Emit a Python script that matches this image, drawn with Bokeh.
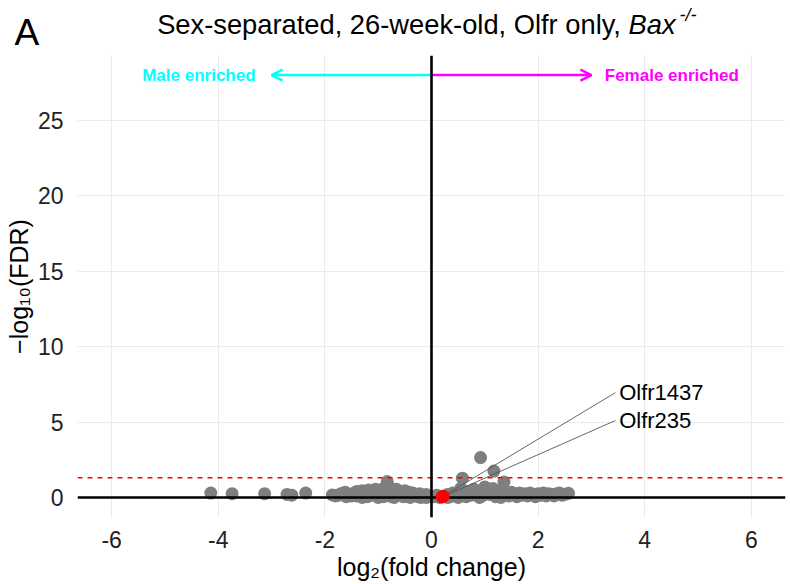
from bokeh.plotting import figure
from bokeh.layouts import column
from bokeh.models import Range1d, Span, Arrow, OpenHead, Label
from bokeh.embed import file_html
from bokeh.resources import INLINE
from bokeh.core.properties import value

# ---------------- data ----------------
gray_x = [-4.14, -3.74, -3.13, -2.71, -2.62, -2.36, -1.86, -1.80,
          -1.75, -1.70, -1.62, -1.55, -1.50, -1.45, -1.40, -1.35, -1.30, -1.25,
          -1.20, -1.18, -1.12, -1.08, -1.05, -1.00, -0.98, -0.95, -0.90, -0.88,
          -0.83, -0.80, -0.78, -0.75, -0.72, -0.70, -0.66, -0.62, -0.60, -0.56,
          -0.52, -0.50, -0.46, -0.42, -0.38, -0.35, -0.30, -0.26, -0.22, -0.18,
          -0.14, -0.10, -0.06, -0.03, -1.60, -1.30, -1.00, -0.70, -0.40, -0.20,
          -0.10, -0.90, -0.55, -1.40,
          0.05, 0.10, 0.15, 0.30, 0.35, 0.40, 0.45, 0.50, 0.55, 0.58, 0.60,
          0.65, 0.70, 0.75, 0.80, 0.85, 0.92, 0.95, 1.00, 1.05, 1.10, 1.17,
          1.20, 1.25, 1.30, 1.36, 1.40, 1.45, 1.50, 1.55, 1.60, 1.65, 1.70,
          1.75, 1.80, 1.85, 1.90, 1.95, 2.00, 2.05, 2.10, 2.15, 2.20, 2.25,
          2.30, 2.35, 2.40, 2.45, 2.50, 2.57, 1.15, 0.30, 0.50, 0.90, 1.30,
          1.00]
gray_y = [0.29, 0.25, 0.25, 0.20, 0.15, 0.29, 0.16, 0.10,
          0.15, 0.25, 0.35, 0.20, 0.10, 0.30, 0.40, 0.15, 0.45, 0.25,
          0.05, 0.50, 0.35, 0.15, 0.55, 0.30, 0.10, 0.45, 0.60, 0.20,
          1.05, 0.70, 0.35, 0.05, 0.50, 0.25, 0.55, 0.15, 0.40, 0.30,
          0.05, 0.45, 0.20, 0.35, 0.10, 0.30, 0.20, 0.05, 0.25, 0.15,
          0.10, 0.20, 0.05, 0.10, 0.05, 0.00, 0.00, 0.00, 0.00, 0.00,
          0.00, 0.05, 0.10, 0.10,
          0.05, 0.15, 0.00, 0.20, 0.05, 0.30, 0.10, 0.35, 0.60, 1.28, 0.20,
          0.05, 0.40, 0.15, 0.55, 0.30, 2.64, 0.10, 0.35, 0.50, 0.20, 1.75,
          0.05, 0.30, 0.45, 1.02, 0.20, 0.10, 0.35, 0.25, 0.05, 0.30, 0.15,
          0.25, 0.10, 0.30, 0.20, 0.05, 0.25, 0.15, 0.30, 0.10, 0.25, 0.20,
          0.10, 0.25, 0.30, 0.15, 0.20, 0.27, 0.60, 0.00, 0.00, 0.00, 0.00,
          0.70]

hit_genes = ["Olfr1437", "Olfr235"]
hit_x = [0.22, 0.20]
hit_y = [0.08, 0.03]
label_x = [3.45, 3.45]
label_y = [6.95, 5.10]

fdr_threshold = 1.30103          # -log10(0.05)
x_ticks = [-6, -4, -2, 0, 2, 4, 6]
x_tick_labels = ["-6", "-4", "-2", "0", "2", "4", "6"]
y_ticks = [0, 5, 10, 15, 20, 25]
y_tick_labels = ["0", "5", "10", "15", "20", "25"]
x_lim = (-6.64, 6.64)
y_lim = (-1.33, 29.3)
arrow_y = 28
arrow_len = 3

title_main = "Sex-separated, 26-week-old, Olfr only, "
title_gene = "Bax"
title_sup = "-/-"
panel_tag = "A"

FONT = "Liberation Sans"
CYAN = "#00FFFF"
MAGENTA = "#FF00FF"
W = 790
TITLE_H = 55
MAIN_H = 584 - TITLE_H

# ---------------- title band (a pixel-coordinate strip above the panel) ----------------
t = figure(width=W, height=TITLE_H, output_backend="svg", toolbar_location=None,
           x_range=Range1d(0, W), y_range=Range1d(TITLE_H, 0),
           x_axis_type=None, y_axis_type=None,
           min_border_left=0, min_border_right=0, min_border_top=0, min_border_bottom=0)
t.outline_line_color = None
t.grid.visible = False
t.title.visible = False
t.background_fill_color = "white"
t.border_fill_color = "white"
t.add_layout(Label(x=628, y=23.5, text=title_main, text_align="right", text_baseline="middle",
                   text_font=FONT, text_font_size="27.3px", text_color="black"))
t.add_layout(Label(x=628, y=23.5, text=title_gene, text_align="left", text_baseline="middle",
                   text_font=FONT, text_font_size="27.3px", text_font_style="italic", text_color="black"))
t.add_layout(Label(x=679, y=14, text=title_sup, text_align="left", text_baseline="middle",
                   text_font=FONT, text_font_size="18px", text_font_style="italic", text_color="black"))
t.add_layout(Label(x=14, y=32, text=panel_tag, text_align="left", text_baseline="middle",
                   text_font=FONT, text_font_size="37px", text_color="black"))

# ---------------- main panel ----------------
p = figure(width=W, height=MAIN_H, output_backend="svg", toolbar_location=None,
           x_range=Range1d(*x_lim), y_range=Range1d(*y_lim),
           min_border_left=77, min_border_right=5,
           min_border_top=0, min_border_bottom=67)
p.outline_line_color = None
p.background_fill_color = "white"
p.border_fill_color = "white"

# keep each figure's frame where it is set (no frame alignment across the column)
for fig in (t, p):
    if "frame_align" in fig.properties():
        fig.frame_align = False

for ax, ticks, labels in ((p.xaxis, x_ticks, x_tick_labels), (p.yaxis, y_ticks, y_tick_labels)):
    ax.ticker = ticks
    ax.major_label_overrides = {tk: lb for tk, lb in zip(ticks, labels)}
    ax.axis_line_color = None
    ax.major_tick_line_color = None
    ax.minor_tick_line_color = None
    ax.major_label_text_font = FONT
    ax.major_label_text_font_size = "23px"
    ax.major_label_text_color = "#222222"
    ax.axis_label_text_font = FONT
    ax.axis_label_text_font_size = "25px"
    ax.axis_label_text_font_style = "normal"
    ax.axis_label_text_color = "black"

p.xaxis.axis_label = "log\u2082(fold change)"
p.yaxis.axis_label = "\u2212log\u2081\u2080(FDR)"
p.xaxis.major_label_standoff = 7
p.xaxis.axis_label_standoff = 2
p.yaxis.major_label_standoff = 8
p.yaxis.axis_label_standoff = 2

p.xgrid.grid_line_color = "#EBEBEB"
p.ygrid.grid_line_color = "#EBEBEB"
p.xgrid.grid_line_width = 1
p.ygrid.grid_line_width = 1

# gray points
p.scatter(gray_x, gray_y, size=13, color="#7F7F7F", line_color=None)

# threshold line
p.add_layout(Span(location=fdr_threshold, dimension="width", line_color="red",
                  line_dash="5 5", line_width=1.6))

# direction arrows
p.add_layout(Arrow(x_start=0, y_start=arrow_y, x_end=-arrow_len, y_end=arrow_y,
                   line_color=CYAN, line_width=2.5,
                   end=OpenHead(size=11, line_color=CYAN, line_width=2.5)))
p.add_layout(Arrow(x_start=0, y_start=arrow_y, x_end=arrow_len, y_end=arrow_y,
                   line_color=MAGENTA, line_width=2.5,
                   end=OpenHead(size=11, line_color=MAGENTA, line_width=2.5)))
p.add_layout(Label(x=-arrow_len - 0.3, y=arrow_y, text="Male enriched", text_align="right",
                   text_baseline="middle", text_font=FONT, text_font_size="17px",
                   text_font_style="bold", text_color=CYAN))
p.add_layout(Label(x=arrow_len + 0.25, y=arrow_y, text="Female enriched", text_align="left",
                   text_baseline="middle", text_font=FONT, text_font_size="17px",
                   text_font_style="bold", text_color=MAGENTA))

# zero lines
p.add_layout(Span(location=0, dimension="height", line_color="black", line_width=2.6))
p.add_layout(Span(location=0, dimension="width", line_color="black", line_width=2.6))

# label connectors + labels + red points
seg = p.segment(x0=hit_x, y0=hit_y, x1=label_x, y1=label_y, line_color="#555555", line_width=0.9)
seg.level = "overlay"
txt = p.text(x=[lx + 0.07 for lx in label_x], y=label_y, text=hit_genes,
             text_font=value(FONT), text_font_size="22px", text_baseline="middle",
             text_align="left", text_color="black")
txt.level = "overlay"
red = p.scatter(hit_x, hit_y, size=13, color="red", line_color=None)
red.level = "overlay"

layout = column(t, p, spacing=0)
open("out.html", "w").write(file_html(layout, INLINE))
